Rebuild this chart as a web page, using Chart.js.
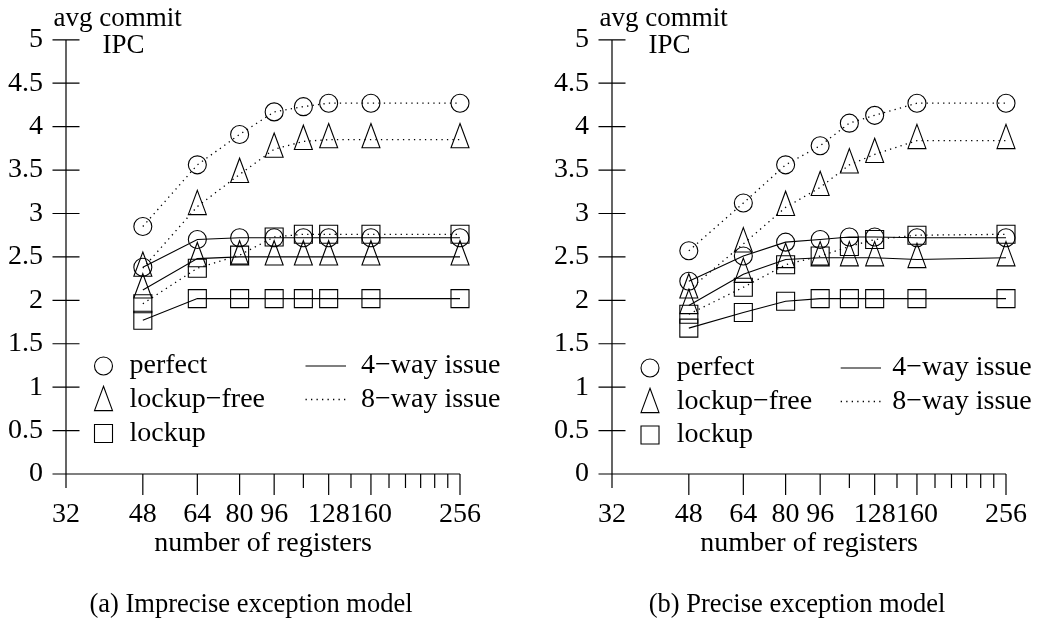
<!DOCTYPE html>
<html>
<head>
<meta charset="utf-8">
<script src="https://cdn.jsdelivr.net/npm/chart.js@4/dist/chart.umd.min.js"></script>
<style>
body { margin: 0; background: #fff; width: 1051px; height: 626px; overflow: hidden; position: relative; font-family: "Liberation Serif", serif; }
.panel { position: absolute; top: 0; }
.caption { position: absolute; top: 590px; font-size: 26.5px; line-height: 1; color: #000; white-space: nowrap; transform: translateX(-50%); }
</style>
</head>
<body>
<div class="panel" style="left:0"><canvas id="chartA" width="505" height="626"></canvas></div>
<div class="panel" style="left:546px"><canvas id="chartB" width="505" height="626"></canvas></div>
<div class="caption" style="left:251px">(a) Imprecise exception model</div>
<div class="caption" style="left:797px">(b) Precise exception model</div>
<script>
// register file sizes on the x axis
const registers = [48, 64, 80, 96, 112, 128, 160, 256];
const xTickValues = [32, 48, 64, 80, 96, 112, 128, 144, 160, 176, 192, 208, 224, 240, 256];
const xTickLabels = [32, 48, 64, 80, 96, 128, 160, 256];

/* ============================
   (a) IMPRECISE EXCEPTION MODEL
============================ */
const perfect8A     = [2.85, 3.56, 3.91, 4.17, 4.23, 4.27, 4.27, 4.27];
const lockupFree8A  = [2.37, 3.08, 3.45, 3.74, 3.83, 3.85, 3.85, 3.85];
const lockup8A      = [1.96, 2.37, 2.52, 2.73, 2.76, 2.76, 2.76, 2.76];
const perfect4A     = [2.38, 2.70, 2.72, 2.72, 2.72, 2.72, 2.72, 2.72];
const lockupFree4A  = [2.12, 2.48, 2.50, 2.50, 2.50, 2.50, 2.50, 2.50];
const lockup4A      = [1.77, 2.02, 2.02, 2.02, 2.02, 2.02, 2.02, 2.02];

/* ============================
   (b) PRECISE EXCEPTION MODEL
============================ */
const perfect8B     = [2.57, 3.12, 3.56, 3.78, 4.04, 4.13, 4.27, 4.27];
const lockupFree8B  = [2.12, 2.65, 3.07, 3.30, 3.56, 3.68, 3.84, 3.84];
const lockup8B      = [1.84, 2.15, 2.41, 2.51, 2.62, 2.70, 2.75, 2.76];
const perfect4B     = [2.22, 2.51, 2.67, 2.70, 2.73, 2.73, 2.72, 2.72];
const lockupFree4B  = [1.94, 2.30, 2.47, 2.49, 2.49, 2.49, 2.47, 2.49];
const lockup4B      = [1.68, 1.86, 1.99, 2.02, 2.02, 2.02, 2.02, 2.02];

const FONT = '"Liberation Serif", "Times New Roman", serif';
const DOTS = [1.3, 4.2];

// hollow gnuplot-like markers, drawn around the point (triangle on its centroid)
function drawMarker(ctx, kind, x, y) {
    ctx.beginPath();
    if (kind === 'circle') ctx.arc(x, y, 9, 0, Math.PI * 2);
    else if (kind === 'square') ctx.rect(x - 9, y - 9, 18, 18);
    else {
        ctx.moveTo(x, y - 16.2);
        ctx.lineTo(x + 9, y + 8.1);
        ctx.lineTo(x - 9, y + 8.1);
        ctx.closePath();
    }
    ctx.stroke();
}

function series(values, marker, dotted) {
    return {
        data: registers.map((r, i) => ({ x: r, y: values[i] })),
        marker: marker,
        borderColor: '#000',
        borderWidth: dotted ? 1.3 : 1.1,
        borderDash: dotted ? DOTS : [],
        pointRadius: 0,
        tension: 0,
        fill: false,
        clip: false
    };
}

const markerPlugin = {
    id: 'markers',
    afterDatasetsDraw(chart) {
        const ctx = chart.ctx;
        ctx.save();
        ctx.strokeStyle = '#000';
        ctx.lineWidth = 1.1;
        chart.data.datasets.forEach((ds, i) => {
            chart.getDatasetMeta(i).data.forEach(pt => drawMarker(ctx, ds.marker, pt.x, pt.y));
        });
        ctx.restore();
    }
};

// axes, tick marks, y title and the key
const framePlugin = {
    id: 'frame',
    afterDraw(chart, args, o) {
        const { ctx, chartArea: a, scales: { x, y } } = chart;
        ctx.save();
        ctx.strokeStyle = '#000';
        ctx.lineWidth = 1.2;
        ctx.beginPath();
        ctx.moveTo(a.left, y.getPixelForValue(5));
        ctx.lineTo(a.left, a.bottom);
        ctx.moveTo(a.left - 13.5, a.bottom);
        ctx.lineTo(a.right, a.bottom);
        y.ticks.forEach(t => {
            const py = y.getPixelForValue(t.value);
            ctx.moveTo(a.left - 13.5, py);
            ctx.lineTo(a.left + 13.5, py);
        });
        x.ticks.forEach(t => {
            const px = x.getPixelForValue(t.value);
            const len = (xTickLabels.includes(t.value) && t.value !== 32) ? 21 : 14;
            ctx.moveTo(px, a.bottom);
            ctx.lineTo(px, a.bottom + len);
        });
        ctx.stroke();

        ctx.fillStyle = '#000';
        ctx.font = '27px ' + FONT;
        ctx.textAlign = 'left';
        ctx.textBaseline = 'alphabetic';
        ctx.fillText('avg commit', a.left - 12.5, 26);
        ctx.fillText('IPC', a.left + 36.5, 53);

        // key
        ctx.font = '28px ' + FONT;
        ctx.textBaseline = 'middle';
        ctx.lineWidth = 1.1;
        const names = ['perfect', 'lockup\u2212free', 'lockup'];
        const kinds = ['circle', 'triangle', 'square'];
        names.forEach((n, i) => {
            const my = o.rows[i];
            drawMarker(ctx, kinds[i], a.left + o.markX, kinds[i] === 'triangle' ? my + 3 : my);
            ctx.fillText(n, a.left + o.textX, my);
        });
        ['4\u2212way issue', '8\u2212way issue'].forEach((n, i) => {
            const my = o.rows[i];
            ctx.beginPath();
            ctx.lineWidth = i ? 1.3 : 1.1;
            ctx.setLineDash(i ? DOTS : []);
            ctx.moveTo(a.left + o.lineX1, my);
            ctx.lineTo(a.left + o.lineX2, my);
            ctx.stroke();
            ctx.setLineDash([]);
            ctx.fillText(n, a.left + o.rightTextX, my);
        });
        ctx.restore();
    }
};

function makeChart(id, datasets, padRight, key) {
    return new Chart(document.getElementById(id), {
        type: 'line',
        data: { datasets },
        plugins: [markerPlugin, framePlugin],
        options: {
            responsive: false,
            animation: false,
            events: [],
            layout: { padding: { left: 0, right: padRight, top: 33, bottom: 0 } },
            plugins: { legend: { display: false }, tooltip: { enabled: false }, frame: key },
            scales: {
                x: {
                    type: 'logarithmic',
                    min: 32,
                    max: 256,
                    afterBuildTicks: s => { s.ticks = xTickValues.map(v => ({ value: v })); },
                    afterFit: s => { s.height = 152; },
                    grid: { display: false, drawTicks: false },
                    border: { display: false },
                    ticks: {
                        autoSkip: false,
                        maxRotation: 0,
                        padding: 24,
                        color: '#000',
                        font: { family: FONT, size: 28 },
                        callback: v => xTickLabels.includes(v) ? String(v) : ''
                    },
                    title: {
                        display: true,
                        text: 'number of registers',
                        color: '#000',
                        font: { family: FONT, size: 28 },
                        padding: { top: 0, bottom: 66 }
                    }
                },
                y: {
                    min: 0,
                    max: 5,
                    afterFit: s => { s.width = 66; },
                    grid: { display: false, drawTicks: false },
                    border: { display: false },
                    ticks: {
                        stepSize: 0.5,
                        padding: 23,
                        color: '#000',
                        font: { family: FONT, size: 28 },
                        callback: v => String(v)
                    }
                }
            }
        }
    });
}

makeChart('chartA', [
    series(perfect8A, 'circle', true),
    series(lockupFree8A, 'triangle', true),
    series(lockup8A, 'square', true),
    series(perfect4A, 'circle', false),
    series(lockupFree4A, 'triangle', false),
    series(lockup4A, 'square', false)
], 30, { rows: [366, 399.5, 433.5], markX: 37.5, textX: 63.5, lineX1: 239.5, lineX2: 280, rightTextX: 295 });

makeChart('chartB', [
    series(perfect8B, 'circle', true),
    series(lockupFree8B, 'triangle', true),
    series(lockup8B, 'square', true),
    series(perfect4B, 'circle', false),
    series(lockupFree4B, 'triangle', false),
    series(lockup4B, 'square', false)
], 28, { rows: [368, 401.5, 435], markX: 38, textX: 64.7, lineX1: 228.7, lineX2: 269, rightTextX: 280.3 });
</script>
</body>
</html>
